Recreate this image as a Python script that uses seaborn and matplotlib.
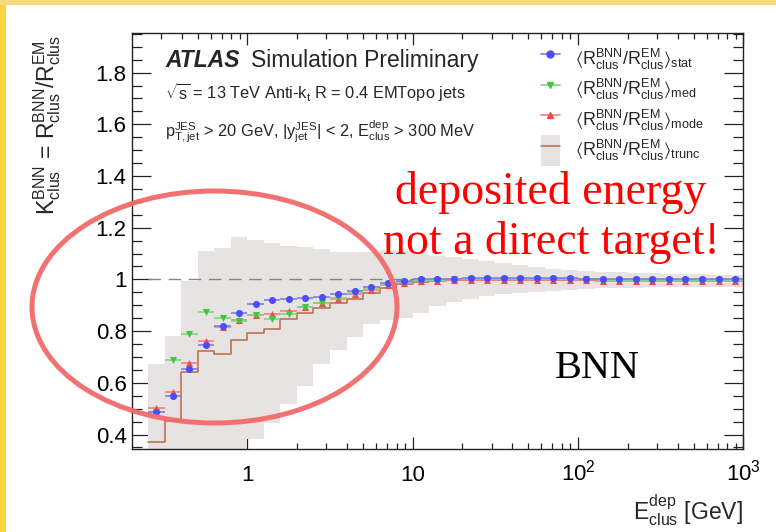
import numpy as np
import matplotlib
matplotlib.use("Agg")
import matplotlib.pyplot as plt
from matplotlib.lines import Line2D
from matplotlib.patches import Patch, Ellipse, Rectangle
from matplotlib.ticker import (FixedLocator, FixedFormatter, LogLocator,
                               MultipleLocator, FuncFormatter, NullFormatter)
import seaborn as sns

# Energy binning: 0.1 decade wide bins from 10^-0.6 to 10^3 GeV
bin_edges = np.logspace(-0.6, 3.0, 37)

# Response ratio estimators per bin
k_stat = [0.486, 0.548, 0.652, 0.746, 0.819, 0.872, 0.903, 0.919, 0.923, 0.927,
          0.933, 0.942, 0.955, 0.970, 0.985, 0.994, 1.000, 1.002, 1.003, 1.004,
          1.004, 1.004, 1.004, 1.005, 1.004, 1.004, 1.003, 1.002, 1.001, 1.001,
          1.001, 1.000, 1.000, 1.001, 1.001, 1.000]
k_med = [0.487, 0.688, 0.787, 0.874, 0.851, 0.838, 0.862, 0.845, 0.868, 0.894,
         0.910, 0.927, 0.948, 0.964, 0.982, 0.991, 0.997, 0.999, 1.000, 1.001,
         1.001, 1.001, 1.000, 1.001, 1.000, 1.000, 1.000, 0.999, 0.999, 0.999,
         0.998, 0.998, 0.999, 0.999, 0.999, 0.999]
k_mode = [0.501, 0.566, 0.677, 0.761, 0.815, 0.843, 0.863, 0.867, 0.877, 0.894,
          0.908, 0.923, 0.942, 0.959, 0.978, 0.988, 0.993, 0.995, 0.996, 0.997,
          0.997, 0.997, 0.996, 0.997, 0.996, 0.996, 0.996, 0.995, 0.995, 0.995,
          0.994, 0.994, 0.995, 0.995, 0.995, 0.995]
k_trunc = [0.370, 0.452, 0.641, 0.725, 0.710, 0.766, 0.791, 0.809, 0.845, 0.871,
           0.889, 0.910, 0.926, 0.946, 0.968, 0.981, 0.990, 0.994, 0.996, 0.997,
           0.998, 0.998, 0.998, 0.998, 0.998, 0.998, 0.997, 0.997, 0.997, 0.997,
           0.996, 0.996, 0.997, 0.997, 0.997, 0.997]
# Spread of the truncated estimator
trunc_lo = [0.30, 0.30, 0.30, 0.30, 0.30, 0.30, 0.383, 0.443, 0.520, 0.587,
            0.671, 0.726, 0.778, 0.826, 0.843, 0.852, 0.872, 0.897, 0.913, 0.926,
            0.936, 0.942, 0.948, 0.952, 0.956, 0.960, 0.963, 0.965, 0.967, 0.968,
            0.969, 0.970, 0.970, 0.971, 0.972, 0.972]
trunc_hi = [0.674, 0.783, 0.994, 1.110, 1.120, 1.164, 1.151, 1.139, 1.129, 1.125,
            1.119, 1.107, 1.107, 1.107, 1.115, 1.110, 1.100, 1.092, 1.085, 1.078,
            1.070, 1.062, 1.055, 1.048, 1.042, 1.038, 1.034, 1.030, 1.027, 1.025,
            1.023, 1.022, 1.020, 1.020, 1.018, 1.018]

x_tick_vals = [1, 10, 100, 1000]
x_tick_text = ["1", "10", "$10^{2}$", "$10^{3}$"]

legend_labels = [
    r"$\langle R^{BNN}_{clus}/R^{EM}_{clus}\rangle_{stat}$",
    r"$\langle R^{BNN}_{clus}/R^{EM}_{clus}\rangle_{med}$",
    r"$\langle R^{BNN}_{clus}/R^{EM}_{clus}\rangle_{mode}$",
    r"$\langle R^{BNN}_{clus}/R^{EM}_{clus}\rangle_{trunc}$",
]

sns.set_style("ticks")
plt.rcParams["font.family"] = ["Liberation Sans", "DejaVu Sans"]
plt.rcParams["mathtext.fontset"] = "custom"
plt.rcParams["mathtext.rm"] = "Liberation Sans"
plt.rcParams["mathtext.it"] = "Liberation Sans:italic"
plt.rcParams["mathtext.bf"] = "Liberation Sans:bold"
plt.rcParams["mathtext.default"] = "regular"

W, H = 776, 532
fig = plt.figure(figsize=(W / 100, H / 100), dpi=100)
fig.patch.set_facecolor("white")

ax_l, ax_r, ax_t, ax_b = 132.3, 743.3, 33.3, 449.0
ax = fig.add_axes([ax_l / W, 1 - ax_b / H, (ax_r - ax_l) / W, (ax_b - ax_t) / H])
ax.set_facecolor("white")
ax.set_xscale("log")

edges = bin_edges
centers = np.sqrt(edges[:-1] * edges[1:])
xerr = [centers - edges[:-1], edges[1:] - centers]

band_color = "#e7e3e3"
brown = "#b86a45"
blue, blue_bar = "#4d4df7", "#7c7cf8"
green, green_bar = "#3fc83f", "#7ed87e"
red, red_bar = "#f24b4b", "#f58080"

# uncertainty band of the truncated mean
ax.fill_between(edges, np.append(trunc_lo, trunc_lo[-1]),
                np.append(trunc_hi, trunc_hi[-1]), step="post",
                color=band_color, lw=0, zorder=1)

# reference line at unity
ax.hlines(1.0, 0.25, 1000, colors="#858585", linestyles=(0, (9, 5.5)),
          lw=1.0, zorder=2)

# truncated mean as a step line
sns.lineplot(x=edges, y=np.append(k_trunc, k_trunc[-1]), drawstyle="steps-post",
             color=brown, lw=1.1, estimator=None, sort=False, ax=ax, zorder=3)

# point estimators with bin-width horizontal bars
series = [(k_mode, "^", red, red_bar, 4),
          (k_med, "v", green, green_bar, 6),
          (k_stat, "o", blue, blue_bar, 8)]
for vals, mk, c, cb, z in series:
    ax.errorbar(centers, vals, xerr=xerr, fmt="none", ecolor=cb,
                elinewidth=1.2, capsize=0, zorder=z)
    sns.scatterplot(x=centers, y=vals, marker=mk, color=c, s=26, linewidth=0,
                    ax=ax, zorder=z + 1, legend=False)

ax.set_xlim(0.2014, 1000)
ax.set_ylim(0.344, 1.952)

# axis ticks, ROOT style (inward on all sides)
ax.xaxis.set_major_locator(FixedLocator(x_tick_vals))
ax.xaxis.set_major_formatter(FixedFormatter(x_tick_text))
ax.xaxis.set_minor_locator(LogLocator(base=10, subs=np.arange(2, 10)))
ax.xaxis.set_minor_formatter(NullFormatter())
ax.yaxis.set_major_locator(MultipleLocator(0.2))
ax.yaxis.set_minor_locator(MultipleLocator(0.05))
ax.yaxis.set_major_formatter(FuncFormatter(lambda v, p: f"{v:g}"))

ax.tick_params(which="both", direction="in", top=True, right=True,
               colors="#222222", labelcolor="black", width=0.9)
ax.tick_params(axis="y", which="major", length=13.5, pad=4, labelsize=16)
ax.tick_params(axis="y", which="minor", length=7)
ax.tick_params(axis="x", which="major", length=8.5, pad=23, labelsize=16)
ax.tick_params(axis="x", which="minor", length=4.3)
for t in ax.xaxis.get_major_ticks():
    t.label1.set_verticalalignment("baseline")
for s in ax.spines.values():
    s.set_color("#222222")
    s.set_linewidth(1.0)

ax.set_ylabel(r"$K^{BNN}_{clus}$ = $R^{BNN}_{clus}/R^{EM}_{clus}$",
              fontsize=16.5, loc="top")
ax.yaxis.set_label_coords(-0.113, 0.996)
ax.set_xlabel(r"$E^{dep}_{clus}$ [GeV]", fontsize=16.5, loc="right")
ax.xaxis.set_label_coords(1.0, -0.104)


def axc(px, py):
    return ((px - ax_l) / (ax_r - ax_l), (ax_b - py) / (ax_b - ax_t))


ax.text(*axc(165, 67), "ATLAS", transform=ax.transAxes, fontsize=16.5,
        fontweight="bold", fontstyle="italic", va="baseline", ha="left")
ax.text(*axc(251, 67), "Simulation Preliminary", transform=ax.transAxes,
        fontsize=16.5, va="baseline", ha="left")
ax.text(*axc(165, 99), r"$\sqrt{s}$ = 13 TeV Anti-k$_{t}$ R = 0.4 EMTopo jets",
        transform=ax.transAxes, fontsize=11.8, va="baseline", ha="left")
ax.text(*axc(165, 136),
        r"$p^{JES}_{T,jet}$ > 20 GeV, |$y^{JES}_{jet}$| < 2, $E^{dep}_{clus}$ > 300 MeV",
        transform=ax.transAxes, fontsize=11.8, va="baseline", ha="left")

# legend
handles = [
    Line2D([], [], color=blue_bar, lw=1.2, marker="o", ms=5, mfc=blue, mec=blue),
    Line2D([], [], color=green_bar, lw=1.2, marker="v", ms=5, mfc=green, mec=green),
    Line2D([], [], color=red_bar, lw=1.2, marker="^", ms=5, mfc=red, mec=red),
    (Patch(fc=band_color, ec="none"), Line2D([], [], color=brown, lw=1.1)),
]
ax.legend(handles, legend_labels, loc="upper left",
          bbox_to_anchor=axc(541, 44), bbox_transform=ax.transAxes,
          frameon=False, fontsize=13, borderpad=0, borderaxespad=0,
          handlelength=1.05, handleheight=2.22, handletextpad=0.83,
          labelspacing=0)

# slide annotations
ax.text(*axc(551, 204), "deposited energy", transform=ax.transAxes,
        fontsize=33, color="red", family="Liberation Serif", ha="center",
        va="baseline", zorder=12)
ax.text(*axc(551, 254), "not a direct target!", transform=ax.transAxes,
        fontsize=33, color="red", family="Liberation Serif", ha="center",
        va="baseline", zorder=12)
ax.text(*axc(597, 378), "BNN", transform=ax.transAxes, fontsize=29,
        color="black", family="Liberation Serif", ha="center", va="baseline",
        zorder=12)

fig.add_artist(Ellipse((214.5 / W, 1 - 307 / H), 365 / W, 232 / H,
                       transform=fig.transFigure, fill=False, ec="#f26a6a",
                       lw=3.6, alpha=0.95, zorder=10))

# slide frame strips
fig.add_artist(Rectangle((0, 0), 6 / W, 1, transform=fig.transFigure,
                         color="#ffd340", lw=0, zorder=20))
fig.add_artist(Rectangle((0, 1 - 5 / H), 1, 5 / H, transform=fig.transFigure,
                         color="#f6d97c", lw=0, zorder=20))

fig.savefig("out.png", dpi=100)
